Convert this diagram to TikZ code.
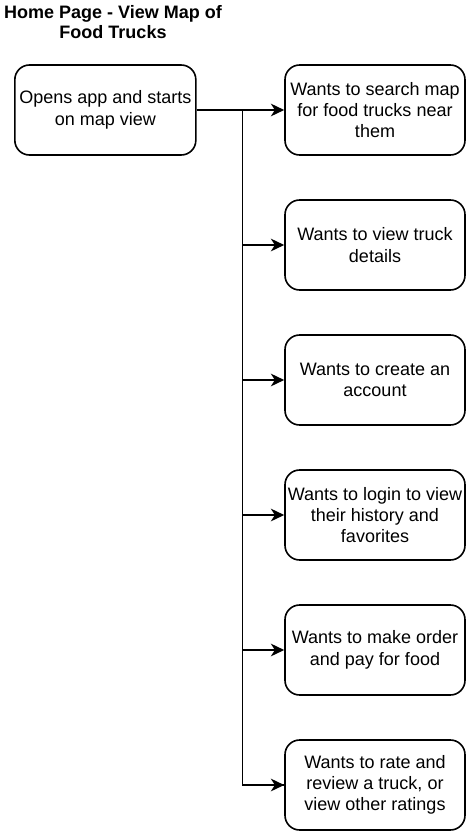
\documentclass[tikz,border=0pt]{standalone}
\usepackage{fontspec}
\setmainfont{Liberation Sans}
\usetikzlibrary{arrows.meta,positioning}

\begin{document}
\begin{tikzpicture}[node distance={101.25pt}, line width=1.2pt,
    main/.style = {draw, rounded corners=11pt, minimum width=135pt, minimum height=67.5pt,
                   inner xsep=1pt, align=center, font=\fontsize{13.5}{16}\selectfont},
    heading/.style = {align=center, font=\fontsize{13.5}{15.5}\selectfont\bfseries},
    arr/.style = {-{Stealth[length=10pt,width=9.5pt,inset=3pt]}}]
    \useasboundingbox (0,0) rectangle (351pt,-623.25pt);
    \node[heading] (title) at (84.75pt,-16.5pt) {Home Page - View Map of\\Food Trucks};
    \node[main, minimum width=135.75pt] (start) at (79pt,-82.5pt) {Opens app and starts\\on map view};
    \node[main, right of=start, node distance=202.25pt] (w1) {Wants to search map\\for food trucks near\\them};
    \node[main, below of=w1] (w2) {Wants to view truck\\details};
    \node[main, below of=w2] (w3) {Wants to create an\\account};
    \node[main, below of=w3] (w4) {Wants to login to view\\their history and\\favorites};
    \node[main, below of=w4] (w5) {Wants to make order\\and pay for food};
    \node[main, below of=w5] (w6) {Wants to rate and\\review a truck, or\\view other ratings};
    \coordinate[right=34.5pt of start.east] (trunk);
    \draw (start) -- (trunk) |- (w6);
    \draw[arr] (trunk) -- (w1);
    \draw[arr] (trunk |- w2) -- (w2);
    \draw[arr] (trunk |- w3) -- (w3);
    \draw[arr] (trunk |- w4) -- (w4);
    \draw[arr] (trunk |- w5) -- (w5);
    \draw[arr] (trunk |- w6) -- (w6);
\end{tikzpicture}
\end{document}
